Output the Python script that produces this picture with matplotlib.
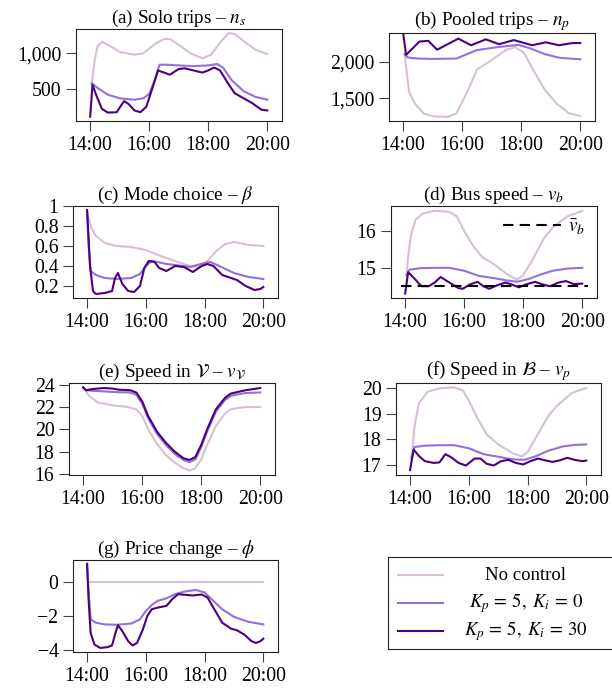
import numpy as np
import matplotlib
matplotlib.use("Agg")
import matplotlib.pyplot as plt

plt.rcParams['font.family'] = ['Liberation Serif', 'DejaVu Serif']
plt.rcParams['mathtext.fontset'] = 'stix'
plt.rcParams['font.size'] = 13.5

# colours of the three runs
c_none = '#d8bfd8'
c_p = '#9370db'
c_pi = '#4b0082'
labels = ['No control', r'$K_p\,=\,5,\;K_i\,=\,0$', r'$K_p\,=\,5,\;K_i\,=\,30$']

# ---- (a) solo trips
a_t_none = [14.05, 14.15, 14.25, 14.4, 14.6, 15.0, 15.5, 15.8, 16.2, 16.5, 16.7, 17.0, 17.4, 17.8, 18.1, 18.4, 18.7, 18.9, 19.2, 19.6, 20.0]
a_none = [560, 900, 1100, 1160, 1120, 1020, 980, 1000, 1130, 1200, 1200, 1120, 1000, 930, 980, 1150, 1285, 1270, 1170, 1050, 990]
a_t_p = [14.05, 14.3, 14.6, 15.0, 15.5, 15.8, 16.0, 16.2, 16.35, 16.6, 17.0, 17.5, 18.0, 18.3, 18.5, 18.8, 19.2, 19.6, 20.0]
a_p = [580, 500, 420, 370, 350, 370, 430, 640, 840, 840, 830, 820, 830, 850, 800, 620, 470, 390, 350]
a_t_pi = [14.0, 14.08, 14.2, 14.4, 14.6, 14.9, 15.0, 15.15, 15.3, 15.5, 15.7, 15.9, 16.1, 16.3, 16.5, 16.7, 17.0, 17.2, 17.5, 17.8, 18.0, 18.2, 18.4, 18.7, 18.9, 19.2, 19.5, 19.8, 20.0]
a_pi = [112, 560, 420, 220, 170, 175, 240, 330, 290, 200, 175, 250, 500, 760, 730, 700, 780, 790, 760, 730, 760, 800, 760, 560, 440, 370, 300, 210, 200]

# ---- (b) pooled trips
b_t_none = [14.05, 14.2, 14.4, 14.7, 15.0, 15.5, 15.8, 16.2, 16.5, 17.0, 17.5, 17.8, 18.1, 18.4, 18.8, 19.2, 19.6, 20.0]
b_none = [2100, 1590, 1430, 1295, 1260, 1250, 1295, 1615, 1890, 2020, 2160, 2195, 2115, 1890, 1615, 1430, 1305, 1260]
b_t_p = [14.05, 14.15, 14.5, 15.0, 15.8, 16.5, 17.3, 17.9, 18.3, 18.8, 19.3, 20.0]
b_p = [2100, 2055, 2040, 2035, 2040, 2155, 2200, 2225, 2180, 2100, 2050, 2030]
b_t_pi = [14.0, 14.1, 14.55, 14.85, 15.15, 15.87, 16.3, 16.8, 17.25, 17.75, 18.37, 18.83, 19.28, 19.74, 20.0]
b_pi = [2380, 2090, 2270, 2280, 2160, 2310, 2220, 2300, 2235, 2290, 2220, 2260, 2220, 2250, 2250]

# ---- (c) mode choice
c_t_none = [14.0, 14.15, 14.3, 14.6, 15.0, 15.5, 16.0, 16.5, 17.0, 17.5, 17.8, 18.1, 18.4, 18.7, 19.0, 19.5, 20.0]
c_none_v = [0.93, 0.78, 0.70, 0.63, 0.60, 0.59, 0.56, 0.50, 0.45, 0.40, 0.39, 0.45, 0.55, 0.62, 0.64, 0.61, 0.60]
c_t_p = [14.0, 14.05, 14.12, 14.3, 14.6, 15.0, 15.5, 15.8, 16.0, 16.2, 16.4, 16.7, 17.0, 17.5, 18.0, 18.2, 18.5, 19.0, 19.5, 20.0]
c_p_v = [0.95, 0.60, 0.35, 0.31, 0.28, 0.27, 0.28, 0.32, 0.40, 0.45, 0.44, 0.42, 0.41, 0.39, 0.43, 0.44, 0.40, 0.33, 0.29, 0.27]
c_t_pi = [14.0, 14.1, 14.2, 14.3, 14.6, 14.85, 14.95, 15.05, 15.2, 15.4, 15.6, 15.8, 15.95, 16.1, 16.3, 16.45, 16.7, 17.0, 17.3, 17.6, 17.9, 18.1, 18.3, 18.6, 18.9, 19.1, 19.4, 19.7, 19.9, 20.0]
c_pi_v = [0.96, 0.40, 0.15, 0.12, 0.13, 0.15, 0.28, 0.33, 0.22, 0.15, 0.14, 0.20, 0.38, 0.45, 0.44, 0.38, 0.35, 0.40, 0.39, 0.34, 0.40, 0.42, 0.40, 0.31, 0.28, 0.26, 0.20, 0.16, 0.17, 0.19]

# ---- (d) bus speed
d_t_none = [14.05, 14.1, 14.2, 14.35, 14.6, 15.0, 15.5, 15.75, 16.0, 16.3, 16.6, 17.0, 17.5, 17.8, 18.0, 18.3, 18.7, 19.0, 19.5, 20.0]
d_none = [14.8, 15.3, 15.9, 16.3, 16.48, 16.55, 16.52, 16.4, 16.0, 15.6, 15.3, 15.1, 14.8, 14.68, 14.8, 15.2, 15.8, 16.1, 16.4, 16.55]
d_t_p = [14.05, 14.15, 14.5, 15.0, 15.5, 16.0, 16.5, 17.0, 17.5, 17.8, 18.2, 18.6, 19.0, 19.5, 20.0]
d_p = [14.8, 14.95, 14.99, 15.0, 15.0, 14.92, 14.78, 14.72, 14.65, 14.62, 14.7, 14.82, 14.92, 14.98, 15.0]
d_t_pi = [14.0, 14.1, 14.3, 14.55, 14.8, 15.0, 15.2, 15.5, 15.8, 15.95, 16.2, 16.45, 16.65, 16.85, 17.1, 17.4, 17.6, 17.85, 18.1, 18.4, 18.65, 18.9, 19.2, 19.45, 19.7, 20.0]
d_pi = [14.3, 14.88, 14.72, 14.5, 14.5, 14.6, 14.75, 14.6, 14.45, 14.43, 14.55, 14.62, 14.5, 14.43, 14.52, 14.6, 14.55, 14.47, 14.55, 14.62, 14.55, 14.5, 14.6, 14.64, 14.56, 14.57]
v_bar = 14.5

# ---- (e) speed in V
e_t = [14.0, 14.1, 14.3, 14.7, 15.0, 15.2, 15.6, 15.8, 16.0, 16.2, 16.5, 16.8, 17.1, 17.4, 17.6, 17.8, 18.0, 18.2, 18.5, 18.8, 19.0, 19.5, 20.0]
e_pi = [23.75, 23.5, 23.6, 23.7, 23.65, 23.55, 23.5, 23.3, 22.5, 21.2, 19.8, 18.8, 18.0, 17.4, 17.25, 17.5, 18.6, 20.0, 21.8, 22.8, 23.2, 23.5, 23.7]
e_p = [23.75, 23.5, 23.45, 23.4, 23.35, 23.32, 23.3, 23.1, 22.3, 21.0, 19.6, 18.6, 17.8, 17.25, 17.05, 17.3, 18.4, 19.8, 21.6, 22.6, 23.0, 23.25, 23.3]
e_t_none = [14.0, 14.2, 14.5, 15.0, 15.5, 15.8, 16.0, 16.2, 16.5, 16.8, 17.1, 17.4, 17.6, 17.8, 18.0, 18.2, 18.5, 18.8, 19.0, 19.5, 20.0]
e_none = [23.75, 23.0, 22.4, 22.15, 22.0, 21.8, 21.2, 20.0, 18.7, 17.7, 17.0, 16.5, 16.3, 16.5, 17.3, 18.6, 20.3, 21.4, 21.8, 22.0, 22.0]

# ---- (f) speed in B
f_t_none = [14.05, 14.15, 14.3, 14.6, 15.0, 15.5, 15.8, 16.0, 16.3, 16.6, 17.0, 17.5, 17.8, 18.0, 18.3, 18.7, 19.0, 19.5, 20.0]
f_none = [17.2, 18.5, 19.4, 19.85, 19.98, 20.02, 19.9, 19.5, 18.8, 18.2, 17.8, 17.45, 17.33, 17.5, 18.1, 18.9, 19.3, 19.8, 20.0]
f_t_p = [14.05, 14.15, 14.5, 15.0, 15.5, 16.0, 16.5, 17.0, 17.5, 17.9, 18.3, 18.7, 19.2, 19.6, 20.0]
f_p = [17.3, 17.7, 17.75, 17.77, 17.77, 17.65, 17.42, 17.32, 17.22, 17.2, 17.35, 17.55, 17.72, 17.78, 17.8]
f_t_pi = [14.0, 14.12, 14.3, 14.5, 14.8, 15.0, 15.2, 15.4, 15.65, 15.9, 16.2, 16.4, 16.6, 16.85, 17.1, 17.35, 17.6, 17.85, 18.1, 18.35, 18.6, 18.85, 19.1, 19.35, 19.6, 19.85, 20.0]
f_pi = [16.8, 17.6, 17.35, 17.15, 17.08, 17.1, 17.42, 17.3, 17.08, 16.98, 17.25, 17.25, 17.05, 16.98, 17.15, 17.2, 17.08, 17.02, 17.15, 17.25, 17.18, 17.12, 17.18, 17.28, 17.2, 17.15, 17.17]

# ---- (g) price change
g_t_none = [14.05, 20.0]
g_none = [0.0, 0.0]
g_t_p = [14.0, 14.05, 14.12, 14.3, 14.6, 15.0, 15.5, 15.8, 16.0, 16.2, 16.4, 16.7, 17.0, 17.3, 17.7, 18.0, 18.3, 18.6, 19.0, 19.5, 20.0]
g_p = [1.1, -0.5, -2.2, -2.4, -2.5, -2.52, -2.45, -2.2, -1.7, -1.35, -1.1, -0.95, -0.7, -0.55, -0.45, -0.6, -1.1, -1.6, -2.05, -2.35, -2.5]
g_t_pi = [14.0, 14.05, 14.12, 14.25, 14.45, 14.7, 14.85, 14.95, 15.05, 15.2, 15.4, 15.55, 15.7, 15.9, 16.05, 16.2, 16.4, 16.7, 16.9, 17.1, 17.4, 17.6, 17.9, 18.1, 18.3, 18.6, 18.9, 19.1, 19.35, 19.6, 19.75, 19.9, 20.0]
g_pi = [1.1, -1.0, -3.0, -3.7, -3.9, -3.85, -3.75, -3.1, -2.55, -2.9, -3.5, -3.75, -3.6, -2.8, -2.0, -1.6, -1.5, -1.4, -1.0, -0.7, -0.75, -0.78, -0.72, -0.9, -1.5, -2.4, -2.75, -2.85, -3.1, -3.5, -3.6, -3.5, -3.35]

xticks = [14, 16, 18, 20]
xticklabels = ['14:00', '16:00', '18:00', '20:00']

W, H = 612, 694
fig = plt.figure(figsize=(W / 100, H / 100), dpi=100)


def panel(box, title, ylim, yticks, yticklabels, series):
    x0, y0, x1, y1 = box
    ax = fig.add_axes([x0 / W, 1 - y1 / H, (x1 - x0) / W, (y1 - y0) / H])
    for t, v, col in series:
        ax.plot(t, v, color=col, lw=1.5)
    ax.set_xlim(13.52, 20.5)
    ax.set_ylim(*ylim)
    ax.set_xticks(xticks)
    ax.set_xticklabels(xticklabels)
    ax.set_yticks(yticks)
    ax.set_yticklabels(yticklabels)
    ax.tick_params(direction='out', length=7.5, width=0.8, color='#444', pad=3, labelsize=14.2)
    for s in ax.spines.values():
        s.set_linewidth(0.8)
        s.set_color('#222')
    ax.set_title(title, pad=4, fontsize=13.8)
    return ax


panel((76, 29, 282, 121), r'(a) Solo trips – $n_s$', (52, 1340), [500, 1000], ['500', '1,000'],
      [(a_t_none, a_none, c_none), (a_t_p, a_p, c_p), (a_t_pi, a_pi, c_pi)])
panel((389, 33, 595, 121), r'(b) Pooled trips – $n_p$', (1195, 2386), [1500, 2000], ['1,500', '2,000'],
      [(b_t_none, b_none, c_none), (b_t_p, b_p, c_p), (b_t_pi, b_pi, c_pi)])
panel((73, 206, 278, 298), r'(c) Mode choice – $\beta$', (0.08, 1.0), [0.2, 0.4, 0.6, 0.8, 1.0],
      ['0.2', '0.4', '0.6', '0.8', '1'],
      [(c_t_none, c_none_v, c_none), (c_t_p, c_p_v, c_p), (c_t_pi, c_pi_v, c_pi)])
axd = panel((391, 206, 597, 298), r'(d) Bus speed – $v_b$', (14.18, 16.68), [15, 16], ['15', '16'],
            [(d_t_none, d_none, c_none), (d_t_p, d_p, c_p), (d_t_pi, d_pi, c_pi)])
axd.plot([13.85, 20.2], [v_bar, v_bar], color='black', lw=1.5, ls=(0, (5, 3)), label=r'$\bar{v}_b$')
axd.legend(loc='upper right', frameon=False, handlelength=3.0, handletextpad=0.4,
           borderaxespad=0.2, fontsize=13.8)
panel((69, 383, 275, 475), r'(e) Speed in $\mathcal{V}$ – $v_\mathcal{V}$', (15.9, 24.15), [16, 18, 20, 22, 24],
      ['16', '18', '20', '22', '24'],
      [(e_t_none, e_none, c_none), (e_t, e_p, c_p), (e_t, e_pi, c_pi)])
panel((396, 383, 601, 475), r'(f) Speed in $\mathcal{B}$ – $v_p$', (16.61, 20.19), [17, 18, 19, 20],
      ['17', '18', '19', '20'],
      [(f_t_none, f_none, c_none), (f_t_p, f_p, c_p), (f_t_pi, f_pi, c_pi)])
panel((73, 560, 278, 652), r'(g) Price change – $\phi$', (-4.14, 1.33), [-4, -2, 0], ['−4', '−2', '0'],
      [(g_t_none, g_none, c_none), (g_t_p, g_p, c_p), (g_t_pi, g_pi, c_pi)])

# legend box with centred entries
lax = fig.add_axes([388 / W, 1 - 649 / H, 226 / W, 92 / H])
lax.set_xlim(0, 1)
lax.set_ylim(0, 1)
lax.set_xticks([])
lax.set_yticks([])
for s in lax.spines.values():
    s.set_linewidth(0.8)
    s.set_color('#222')
for i, (lab, col) in enumerate(zip(labels, [c_none, c_p, c_pi])):
    yy = 0.8 - i * 0.3
    lax.plot([0.045, 0.245], [yy, yy], color=col, lw=1.5)
    lax.text(0.61, yy, lab, ha='center', va='center', fontsize=13.5)

fig.savefig('out.png', dpi=100)
